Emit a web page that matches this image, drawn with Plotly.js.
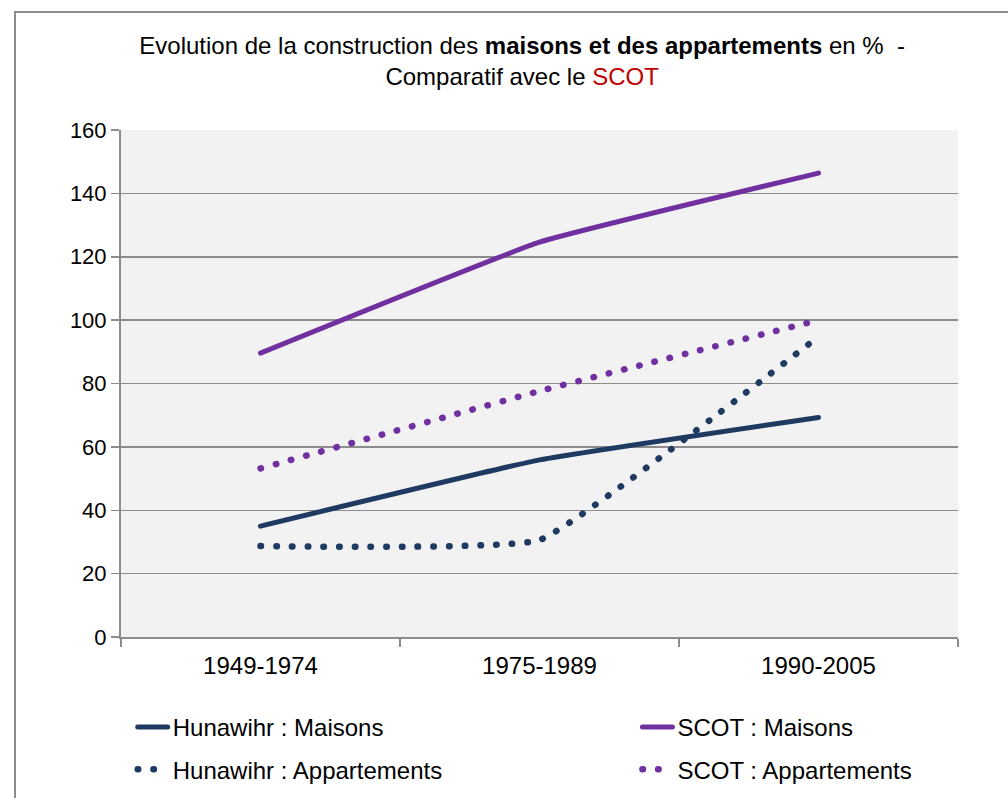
<!DOCTYPE html>
<html>
<head>
<meta charset="utf-8">
<script src="https://cdn.plot.ly/plotly-3.0.1.min.js"></script>
<style>
  html, body { margin: 0; padding: 0; background: #fff; }
  #wrap { position: relative; width: 1008px; height: 798px; overflow: hidden; }
  #frame { position: absolute; left: 14px; top: 11px; width: 1100px; height: 900px; border: 2px solid #8c8c8c; box-sizing: border-box; pointer-events: none; z-index: 5; }
  #chart { position: absolute; left: 0; top: 0; width: 1008px; height: 798px; }
  .scatterlayer .js-line, .legendlines path { stroke-linecap: round; }
</style>
</head>
<body>
<div id="wrap">
  <div id="chart"></div>
  <div id="frame"></div>
</div>
<script>
const categories = ['1949-1974', '1975-1989', '1990-2005'];
const hunawihrMaisons = [35.0, 55.9, 69.3];
const scotMaisons = [89.6, 124.6, 146.4];
const hunawihrAppartements = [28.7, 30.6, 94.8];
const scotAppartements = [53.2, 77.6, 100.0];
const yTicks = [0, 20, 40, 60, 80, 100, 120, 140, 160];

const navy = '#1F3A60';
const purple = '#7030A0';
const dotDash = '0.5px,15.2px';
const FONT = 'Liberation Sans, Arial, sans-serif';

const traces = [
  { x: categories, y: hunawihrMaisons, name: 'Hunawihr : Maisons', mode: 'lines',
    legend: 'legend', legendgroup: 'a',
    line: { color: navy, width: 5, shape: 'spline', smoothing: 0.3 } },
  { x: categories, y: hunawihrAppartements, name: 'Hunawihr : Appartements', mode: 'lines',
    legend: 'legend', legendgroup: 'b',
    line: { color: navy, width: 6.5, dash: dotDash, shape: 'spline', smoothing: 0.3 } },
  { x: categories, y: scotMaisons, name: 'SCOT : Maisons', mode: 'lines',
    legend: 'legend2', legendgroup: 'c',
    line: { color: purple, width: 5, shape: 'spline', smoothing: 0.3 } },
  { x: categories, y: scotAppartements, name: 'SCOT : Appartements', mode: 'lines',
    legend: 'legend2', legendgroup: 'd',
    line: { color: purple, width: 6.5, dash: dotDash, shape: 'spline', smoothing: 0.3 } }
];

const legendCommon = {
  orientation: 'v',
  yanchor: 'top',
  y: -0.134,
  tracegroupgap: 8,
  font: { size: 24, family: FONT, color: '#000' },
  bgcolor: 'rgba(0,0,0,0)',
  borderwidth: 0
};

const layout = {
  width: 1008, height: 798,
  margin: { l: 121, r: 50, t: 130, b: 161, autoexpand: false },
  paper_bgcolor: '#ffffff',
  plot_bgcolor: '#f2f2f2',
  font: { family: FONT, color: '#000' },
  title: {
    text: 'Evolution de la construction des <b>maisons et des appartements</b> en %  -<br>Comparatif avec le <span style="color:#C00000">SCOT</span>',
    font: { size: 24, family: FONT, color: '#000' },
    x: 0.518, xanchor: 'center', y: 0.932, yanchor: 'top'
  },
  xaxis: {
    type: 'category',
    range: [-0.5, 2.5],
    tickson: 'boundaries',
    ticks: 'outside', ticklen: 8, tickwidth: 1.5, tickcolor: '#8c8c8c',
    showline: true, linecolor: '#8c8c8c', linewidth: 2,
    showgrid: false, zeroline: false,
    ticklabelstandoff: 6,
    tickfont: { size: 24, family: FONT }
  },
  yaxis: {
    range: [0, 160],
    tickvals: yTicks,
    ticks: 'outside', ticklen: 8, tickwidth: 1.5, tickcolor: '#8c8c8c',
    showline: true, linecolor: '#8c8c8c', linewidth: 2,
    showgrid: true, gridcolor: '#8c8c8c', gridwidth: 1.5,
    zeroline: false,
    tickfont: { size: 22, family: FONT }
  },
  showlegend: true,
  legend: Object.assign({}, legendCommon, { x: 0.014, xanchor: 'left' }),
  legend2: Object.assign({}, legendCommon, { x: 0.617, xanchor: 'left' })
};

Plotly.newPlot('chart', traces, layout, { displayModeBar: false, staticPlot: true });
</script>
</body>
</html>
